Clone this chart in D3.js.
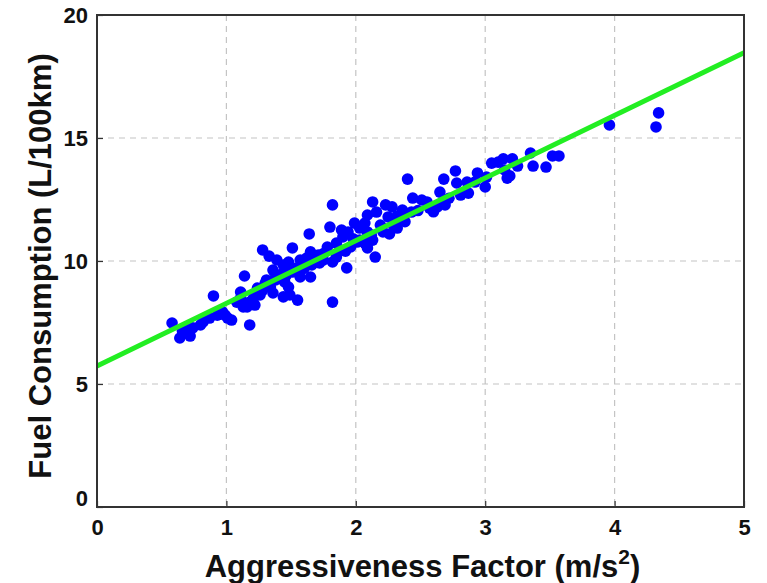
<!DOCTYPE html>
<html>
<head>
<meta charset="utf-8">
<script src="https://cdn.jsdelivr.net/npm/d3@7"></script>
<style>
  body { margin: 0; background: #fff; }
  svg { display: block; }
  .tick-label { font-family: "Liberation Sans", Arial, sans-serif; font-weight: bold; font-size: 22px; fill: #111; }
  .axis-label { font-family: "Liberation Sans", Arial, sans-serif; font-weight: bold; font-size: 31px; fill: #111; }
</style>
</head>
<body>
<svg id="chart" width="767" height="583"></svg>
<script>
// 1: DATA
const aggr = [
  0.58, 0.64, 0.69, 0.72, 0.70, 0.74, 0.66, 0.80, 0.82, 0.87, 0.90, 0.93, 0.97, 0.99, 1.01, 1.04,
  1.08, 1.11, 1.11, 1.13, 1.16, 1.14, 1.18, 1.18, 1.21, 1.22, 1.26, 1.28, 1.28, 1.33, 1.32, 1.34,
  1.36, 1.38, 1.38, 1.31, 1.36, 1.41, 1.39, 1.44, 1.44, 1.45, 1.44, 1.47, 1.48, 1.48, 1.49, 1.51,
  1.51, 1.55, 1.57, 1.57, 1.57,
  1.62, 1.64, 1.65, 1.65, 1.66, 1.71, 1.72, 1.75, 1.78, 1.80, 1.82, 1.82, 1.82, 1.85, 1.85, 1.89,
  1.90, 1.93, 1.94, 1.96, 1.99, 2.01, 1.88,
  2.03, 2.03, 2.07, 2.07, 2.09, 2.09, 2.09, 2.09, 2.13, 2.13, 2.16, 2.15, 2.19, 2.21, 2.23, 2.25,
  2.28, 2.29, 2.32, 2.32, 2.36, 2.36, 2.40, 2.43,
  2.44, 2.51, 2.57, 2.63, 2.65, 2.68, 2.69, 2.77, 2.78, 2.81, 2.86, 2.87, 2.92, 2.94,
  3.00, 3.01, 3.05, 3.10, 3.14, 3.15, 3.17, 3.19, 3.21, 3.25, 3.35, 3.37, 3.47, 3.52, 3.57,
  3.96, 4.32, 4.34,
  1.60, 1.68, 1.75, 1.92, 1.98, 2.12, 2.26, 2.38, 2.48, 2.55, 2.60, 2.72, 1.52, 1.46, 1.30, 1.24
];
const fuel = [
  7.48, 6.87, 7.07, 6.95, 7.24, 7.28, 7.15, 7.40, 7.52, 7.68, 8.58, 7.80, 7.93, 7.80, 7.68, 7.60,
  8.33, 8.74, 8.50, 8.13, 8.13, 9.39, 7.40, 8.33, 8.50, 8.21, 8.62, 8.82, 10.45, 10.20, 9.02, 8.94,
  8.70, 9.23, 9.35, 9.23, 9.63, 9.43, 10.04, 9.84, 9.51, 9.15, 8.54, 9.76, 9.96, 8.94, 8.62, 9.55,
  10.53, 8.41, 10.04, 9.63, 9.35,
  10.12, 11.10, 10.37, 9.35, 9.84, 10.24, 9.92, 10.04, 10.57, 11.38, 12.28, 9.96, 8.33, 10.16, 10.73, 11.26,
  10.98, 9.72, 11.18, 10.57, 11.54, 10.77, 10.45,
  11.34, 10.85, 11.54, 10.73, 10.98, 11.87, 11.18, 10.53, 12.40, 10.85, 11.99, 10.16, 11.46, 11.18, 12.28, 11.79,
  12.20, 11.46, 11.83, 11.34, 12.07, 11.67, 13.33, 11.99,
  12.56, 12.48, 12.15, 12.20, 12.80, 13.33, 12.28, 13.66, 13.17, 12.68, 13.21, 12.76, 13.21, 13.58,
  13.01, 13.41, 13.98, 14.02, 14.15, 13.70, 13.37, 13.46, 14.15, 13.86, 14.39, 13.86, 13.82, 14.27, 14.27,
  15.53, 15.45, 16.02,
  9.70, 9.95, 10.30, 10.40, 10.90, 11.05, 11.10, 11.60, 12.05, 12.40, 12.00, 12.55, 9.70, 9.40, 9.10, 8.90
];
// linear fit end points
const fitX = [0, 5];
const fitY = [5.73, 18.47];

const xTicks = [0, 1, 2, 3, 4, 5];
const yTicks = [0, 5, 10, 15, 20];

// 2: LAYOUT
const margin = { top: 15, right: 23, bottom: 76, left: 97 };
const width = 767 - margin.left - margin.right;
const height = 583 - margin.top - margin.bottom;

const svg = d3.select("#chart");
const g = svg.append("g")
    .attr("transform", `translate(${margin.left},${margin.top})`);

// 3: SCALES
const x = d3.scaleLinear().domain([0, 5]).range([0, width]);
const y = d3.scaleLinear().domain([0, 20]).range([height, 0]);

// 4: GRID
g.append("g").selectAll("line")
    .data(xTicks.slice(1, -1))
    .join("line")
    .attr("x1", d => x(d)).attr("x2", d => x(d))
    .attr("y1", 0).attr("y2", height)
    .attr("stroke", "#c4c4c4").attr("stroke-width", 1.2)
    .attr("stroke-dasharray", "6,5");

g.append("g").selectAll("line")
    .data(yTicks.slice(1, -1))
    .join("line")
    .attr("y1", d => y(d)).attr("y2", d => y(d))
    .attr("x1", 0).attr("x2", width)
    .attr("stroke", "#c4c4c4").attr("stroke-width", 1.2)
    .attr("stroke-dasharray", "6,5");

// 5: POINTS
const pts = aggr.map((a, i) => ({ a: a, f: fuel[i] }));
g.append("defs").append("clipPath").attr("id", "clip")
    .append("rect").attr("width", width).attr("height", height);

g.append("g").selectAll("circle")
    .data(pts)
    .join("circle")
    .attr("cx", d => x(d.a))
    .attr("cy", d => y(d.f))
    .attr("r", 5.8)
    .attr("fill", "#0000ff");

// fit line
const line = d3.line().x(d => x(d[0])).y(d => y(d[1]));
g.append("path")
    .datum(fitX.map((v, i) => [v, fitY[i]]))
    .attr("clip-path", "url(#clip)")
    .attr("fill", "none")
    .attr("stroke", "#22ee22")
    .attr("stroke-width", 5)
    .attr("d", line);

// 6: AXES (MATLAB style, ticks inside)
const xAxis = g.append("g")
    .attr("transform", `translate(0,${height})`)
    .call(d3.axisBottom(x).tickValues(xTicks).tickSize(-6).tickPadding(9).tickFormat(d3.format("d")));
const yAxis = g.append("g")
    .call(d3.axisLeft(y).tickValues(yTicks).tickSize(-6).tickPadding(9).tickFormat(d3.format("d")));

[xAxis, yAxis].forEach(ax => {
    ax.select(".domain").remove();
    ax.selectAll(".tick line").attr("stroke", "#333").attr("stroke-width", 1.2);
    ax.selectAll(".tick text").attr("class", "tick-label").attr("font-size", null).attr("font-family", null);
});
xAxis.selectAll(".tick text").attr("dy", "0.85em");
yAxis.selectAll(".tick text").filter(d => d === 0).attr("dy", "-0.05em");

// frame
g.append("rect")
    .attr("width", width).attr("height", height)
    .attr("fill", "none")
    .attr("stroke", "#333")
    .attr("stroke-width", 2);

// 7: LABELS
const xl = svg.append("text")
    .attr("class", "axis-label")
    .attr("x", margin.left + width / 2 + 2)
    .attr("y", 577)
    .attr("text-anchor", "middle");
xl.append("tspan").text("Aggressiveness Factor (m/s");
xl.append("tspan").attr("font-size", "21px").attr("dy", "-13").text("2");
xl.append("tspan").attr("dy", "13").text(")");

svg.append("text")
    .attr("class", "axis-label")
    .attr("transform", `translate(51,${margin.top + height / 2 + 5}) rotate(-90)`)
    .attr("text-anchor", "middle")
    .text("Fuel Consumption (L/100km)");
</script>
</body>
</html>
